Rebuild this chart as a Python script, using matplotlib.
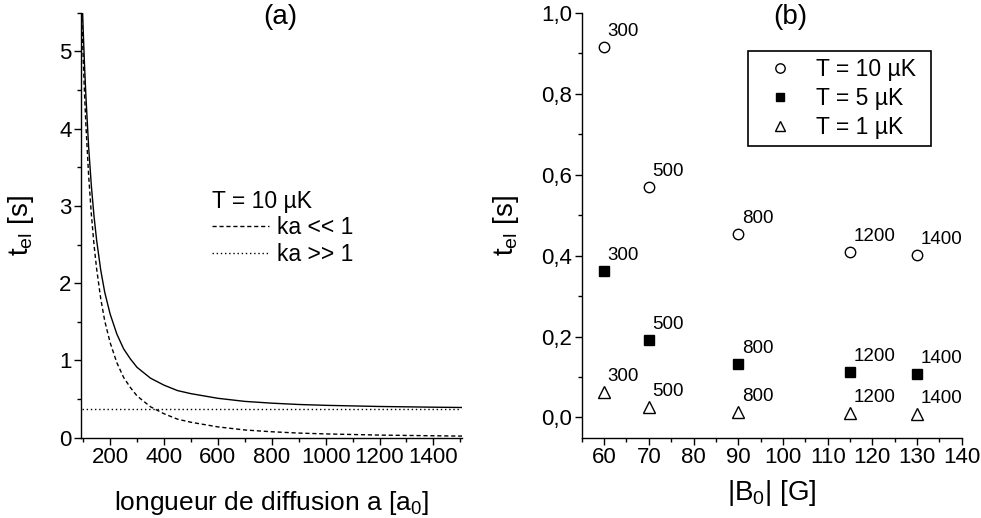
import numpy as np
import matplotlib
matplotlib.use("Agg")
import matplotlib.pyplot as plt
from matplotlib.ticker import MultipleLocator, FuncFormatter

plt.rcParams['font.family'] = ['Liberation Sans', 'DejaVu Sans']
plt.rcParams['mathtext.fontset'] = 'custom'
plt.rcParams['mathtext.rm'] = 'Liberation Sans'
plt.rcParams['mathtext.it'] = 'Liberation Sans:italic'

# (a) t_el vs scattering length, T = 10 uK
a_len = [95, 100, 105, 110, 120, 130, 140, 150, 165, 180, 200, 225, 250, 275,
         300, 350, 400, 450, 500, 600, 700, 800, 900, 1000, 1200, 1400, 1510]
t_full = [5.80, 5.27, 4.81, 4.42, 3.77, 3.27, 2.87, 2.55, 2.17, 1.88, 1.60, 1.34,
          1.15, 1.02, 0.91, 0.77, 0.68, 0.61, 0.57, 0.51, 0.47, 0.447, 0.43,
          0.419, 0.404, 0.395, 0.391]
t_small = [5.43, 4.90, 4.44, 4.05, 3.40, 2.90, 2.50, 2.18, 1.80, 1.51, 1.23, 0.97,
           0.78, 0.65, 0.54, 0.40, 0.31, 0.24, 0.20, 0.14, 0.10, 0.077, 0.060,
           0.049, 0.034, 0.025, 0.021]
a_large = [95, 1500]
t_large = [0.37, 0.37]

# (b) t_el vs |B0|
B0 = [60, 70, 90, 115, 130]
a_labels = ['300', '500', '800', '1200', '1400']
t_10uK = [0.916, 0.570, 0.453, 0.410, 0.401]
t_5uK = [0.363, 0.192, 0.1325, 0.112, 0.107]
t_1uK = [0.062, 0.026, 0.013, 0.010, 0.008]

fig = plt.figure(figsize=(9.81, 5.18), dpi=100)
ax1 = fig.add_axes([0.0829, 0.155, 0.3877, 0.8205])
ax2 = fig.add_axes([0.593, 0.155, 0.3874, 0.8205])

for ax in (ax1, ax2):
    ax.spines['top'].set_visible(False)
    ax.spines['right'].set_visible(False)
    for s in ('left', 'bottom'):
        ax.spines[s].set_linewidth(1.0)
    ax.tick_params(which='major', direction='out', length=5, width=1, labelsize=16, pad=2)
    ax.tick_params(which='minor', direction='out', length=3, width=1)

# panel (a)
ax1.plot(a_len, t_full, color='black', lw=1.0)
ax1.plot(a_len, t_small, color='black', lw=1.0, ls=(0, (3, 2)), label='ka << 1')
ax1.plot(a_large, t_large, color='black', lw=1.0, ls=(0, (1, 2)), label='ka >> 1')
ax1.set_xlim(93, 1505)
ax1.set_ylim(0, 5.5)
ax1.xaxis.set_major_locator(MultipleLocator(200))
ax1.xaxis.set_minor_locator(MultipleLocator(100))
ax1.yaxis.set_major_locator(MultipleLocator(1))
ax1.yaxis.set_minor_locator(MultipleLocator(0.5))
ax1.set_xlabel(r'longueur de diffusion a [a$_\mathrm{0}$]', fontsize=19)
ax1.set_ylabel(r't$_\mathrm{el}$ [s]', fontsize=20)
ax1.xaxis.set_label_coords(0.5, -0.12)
ax1.yaxis.set_label_coords(-0.118, 0.5)
ax1.text(0.522, 0.99, '(a)', transform=ax1.transAxes, ha='center', va='center', fontsize=20)
leg1 = ax1.legend(title='T = 10 µK', loc='upper left', bbox_to_anchor=(0.343, 0.583),
                  frameon=False, fontsize=16.5, title_fontsize=16.5, alignment='left',
                  borderpad=0, borderaxespad=0, handlelength=2.5, handletextpad=0.35,
                  labelspacing=0.15)

# panel (b)
ax2.plot(B0, t_10uK, ls='none', marker='o', ms=7.5, mfc='white', mec='black', mew=1.0,
         label='T = 10 µK')
ax2.plot(B0, t_5uK, ls='none', marker='s', ms=7, mfc='black', mec='black', mew=1.0,
         label='T = 5 µK')
ax2.plot(B0, t_1uK, ls='none', marker='^', ms=8.5, mfc='white', mec='black', mew=1.0,
         label='T = 1 µK')
for ys in (t_10uK, t_5uK, t_1uK):
    for x, y, lab in zip(B0, ys, a_labels):
        ax2.annotate(lab, (x, y), xytext=(2.5, 5), textcoords='offset points',
                     ha='left', va='bottom', fontsize=13.5)
ax2.set_xlim(55, 140)
ax2.set_ylim(-0.05, 1.0)
ax2.xaxis.set_major_locator(MultipleLocator(10))
ax2.xaxis.set_minor_locator(MultipleLocator(5))
ax2.yaxis.set_major_locator(MultipleLocator(0.2))
ax2.yaxis.set_minor_locator(MultipleLocator(0.1))
ax2.yaxis.set_major_formatter(FuncFormatter(lambda v, p: ('%.1f' % v).replace('.', ',')))
ax2.set_xlabel(r'|B$_\mathrm{0}$| [G]', fontsize=20)
ax2.set_ylabel(r't$_\mathrm{el}$ [s]', fontsize=20)
ax2.xaxis.set_label_coords(0.5, -0.095)
ax2.yaxis.set_label_coords(-0.16, 0.5)
ax2.text(0.548, 0.99, '(b)', transform=ax2.transAxes, ha='center', va='center', fontsize=20)
leg2 = ax2.legend(loc='upper left', bbox_to_anchor=(0.4376, 0.691, 0.4816, 0.219),
                  mode='expand', fontsize=16.5, fancybox=False, borderaxespad=0,
                  borderpad=0.3, handlelength=2.2, handletextpad=0.45, labelspacing=0.27,
                  markerscale=0.9)
leg2.get_frame().set_edgecolor('black')
leg2.get_frame().set_linewidth(1.2)
leg2.get_frame().set_alpha(None)

fig.savefig('out.png', dpi=100)
